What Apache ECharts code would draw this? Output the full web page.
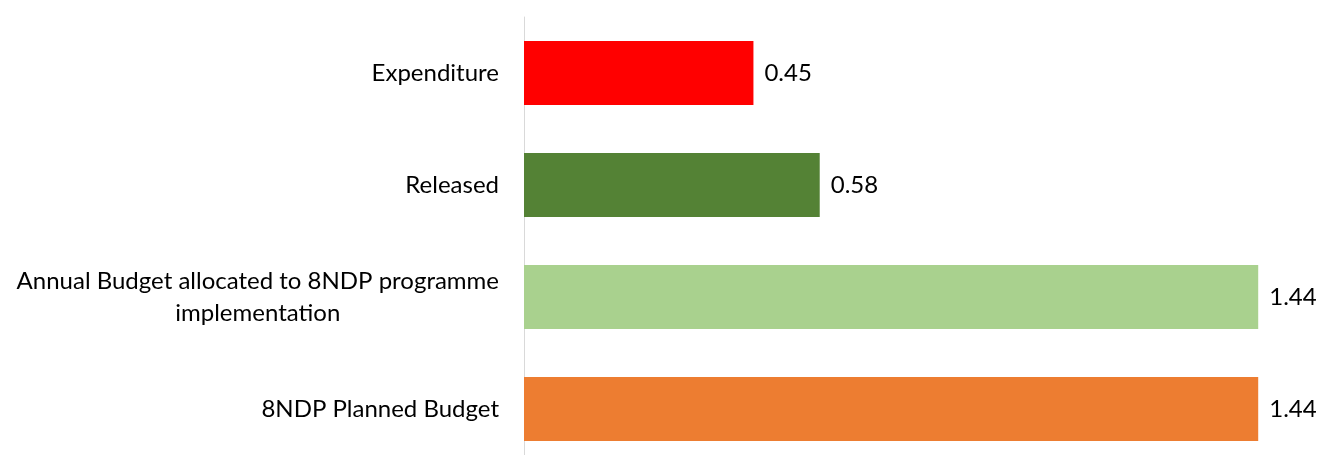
<!DOCTYPE html>
<html>
<head>
<meta charset="utf-8">
<title>8NDP budget</title>
<script src="https://cdn.jsdelivr.net/npm/echarts@6/dist/echarts.min.js"></script>
<style>
  html, body { margin: 0; padding: 0; background: #ffffff; overflow: hidden; width: 1324px; height: 455px; }
  #chart { width: 1324px; height: 470px; }
</style>
</head>
<body>
<div id="chart"></div>
<script>
// Categories, listed top to bottom
const categories = [
  'Expenditure',
  'Released',
  'Annual Budget allocated to 8NDP programme\nimplementation',
  '8NDP Planned Budget'
];
// Amounts shown on each bar
const values = [0.45, 0.58, 1.44, 1.44];

// One fill per bar
const barColors = ['#FF0000', '#548235', '#A9D18E', '#ED7D31'];
const FONT = 'Lato, "Open Sans", sans-serif';

const chart = echarts.init(document.getElementById('chart'), null, { renderer: 'canvas' });

// The value axis runs past the visible page bottom, so the grid is laid out
// in a slightly taller canvas that the page crops.
chart.setOption({
  animation: false,
  backgroundColor: '#ffffff',
  grid: { left: 524, top: 17, width: 775, height: 448, containLabel: false },
  xAxis: {
    type: 'value',
    min: 0,
    max: 1.52,
    show: false
  },
  yAxis: {
    type: 'category',
    inverse: true,
    data: categories,
    axisLine: { show: true, lineStyle: { color: '#D9D9D9', width: 1 } },
    axisTick: { show: false },
    splitLine: { show: false },
    axisLabel: {
      margin: 25,
      color: '#000000',
      fontFamily: FONT,
      fontSize: 24,
      formatter: function (v) {
        return v.split('\n').map(function (s) { return '{c|' + s + '}'; }).join('\n');
      },
      rich: {
        c: { align: 'center', fontFamily: FONT, fontSize: 24, color: '#000000', lineHeight: 32 }
      }
    }
  },
  series: [{
    type: 'bar',
    data: values.map(function (v, i) {
      return { value: v, itemStyle: { color: barColors[i] } };
    }),
    barWidth: 64,
    label: {
      show: true,
      position: 'right',
      distance: 11,
      color: '#000000',
      fontFamily: FONT,
      fontSize: 24,
      formatter: function (p) { return p.value.toFixed(2); }
    }
  }]
});
</script>
</body>
</html>
